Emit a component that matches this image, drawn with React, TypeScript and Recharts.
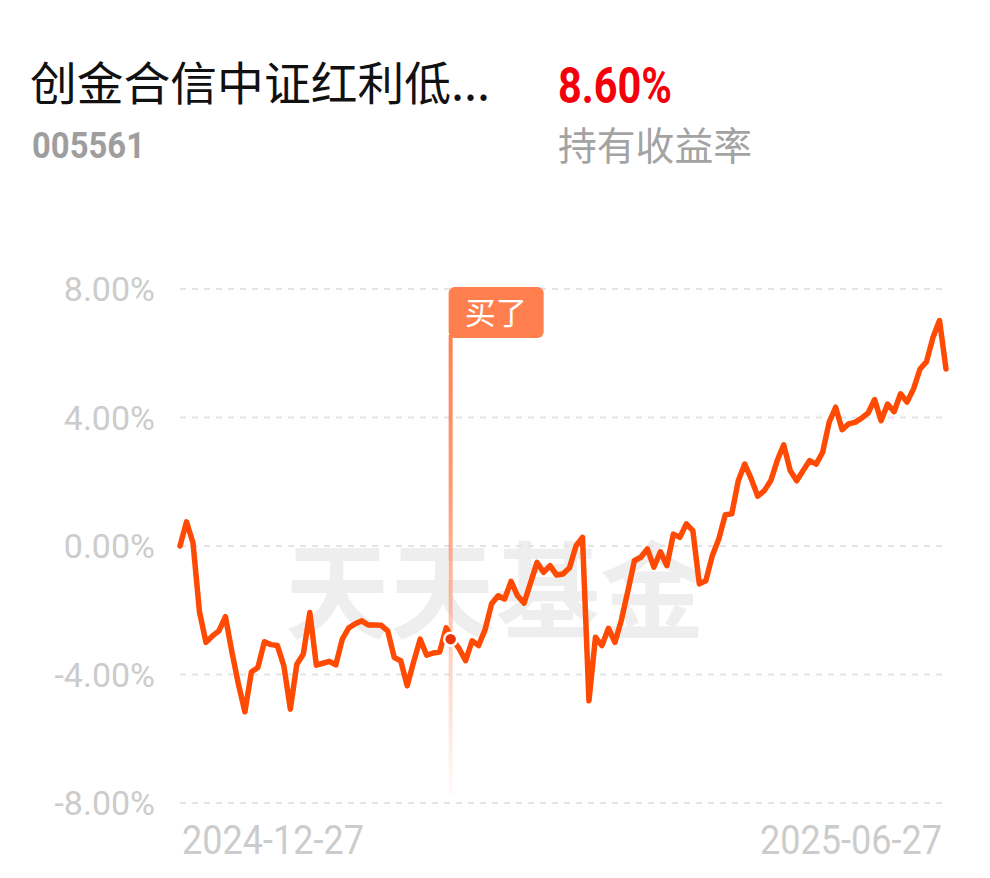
import React from 'react';
import { LineChart, Line, XAxis, YAxis, CartesianGrid, ReferenceLine } from 'recharts';

// 持有收益走势 (%), one value per trading day, 2024-12-27 .. 2025-06-27
const returnRates = [
  0.0, 0.75, 0.1, -2.05, -3.0, -2.8, -2.64, -2.2, -3.3, -4.3,
  -5.16, -3.92, -3.78, -2.98, -3.07, -3.1, -3.73, -5.08, -3.68, -3.36,
  -2.07, -3.71, -3.65, -3.59, -3.7, -2.9, -2.55, -2.42, -2.33, -2.46,
  -2.46, -2.47, -2.64, -3.47, -3.57, -4.35, -3.6, -2.9, -3.4, -3.33,
  -3.3, -2.55, -2.9, -3.2, -3.57, -2.95, -3.1, -2.6, -1.8, -1.55,
  -1.65, -1.1, -1.55, -1.78, -1.15, -0.51, -0.82, -0.61, -0.9, -0.87,
  -0.68, 0.0, 0.27, -4.82, -2.84, -3.1, -2.56, -3.0, -2.3, -1.4,
  -0.46, -0.35, -0.09, -0.66, -0.18, -0.61, 0.37, 0.27, 0.69, 0.48,
  -1.18, -1.08, -0.3, 0.22, 0.97, 1.0, 2.03, 2.55, 2.09, 1.55,
  1.72, 2.03, 2.66, 3.15, 2.35, 2.03, 2.35, 2.66, 2.55, 2.92,
  3.85, 4.32, 3.62, 3.8, 3.85, 3.98, 4.14, 4.56, 3.9, 4.42,
  4.18, 4.74, 4.48, 4.89, 5.51, 5.74, 6.5, 7.02, 5.51,
];
const dateTicks = ['2024-12-27', '2025-06-27'];
const yTicks = [-8, -4, 0, 4, 8];
const buyIndex = 42;
const buyLabel = '买了';

const fundName = '创金合信中证红利低...';
const fundCode = '005561';
const holdReturn = '8.60%';
const holdReturnLabel = '持有收益率';

const data = returnRates.map((v, i) => ({ i, v }));
const lastIndex = returnRates.length - 1;

const NUM_FONT = 'Roboto, "Noto Sans", sans-serif';
const CJK_FONT = '"Noto Sans CJK SC", "Noto Sans", sans-serif';

const DateTick = (props: any) => {
  const { x, y, payload } = props;
  const first = payload.value === 0;
  const label = first ? dateTicks[0] : dateTicks[1];
  return (
    <text
      x={first ? x + 2 : x - 4}
      y={y + 51}
      textAnchor={first ? 'start' : 'end'}
      fill="#cccccc"
      fontSize={41}
      fontFamily={NUM_FONT}
      textLength={182}
      lengthAdjust="spacingAndGlyphs"
    >
      {label}
    </text>
  );
};

const BuyDot = (props: any) => {
  const { cx, cy, index } = props;
  if (index !== buyIndex) return <g key={index} />;
  return <circle key={index} cx={cx - 2} cy={cy} r={6.5} fill="#e8350c" stroke="#ffffff" strokeWidth={2.5} />;
};

const BuyMarker = (props: any) => {
  const { x1, y1, y2 } = props;
  const top = Math.min(y1, y2) - 2;
  const bottom = Math.max(y1, y2);
  const x = x1 - 2;
  return (
    <g>
      <defs>
        <linearGradient id="buyFade" x1="0" y1="0" x2="0" y2="1">
          <stop offset="0%" stopColor="#ff7f50" stopOpacity={1} />
          <stop offset="35%" stopColor="#ff8a5e" stopOpacity={0.85} />
          <stop offset="100%" stopColor="#ff9a75" stopOpacity={0.04} />
        </linearGradient>
      </defs>
      <rect x={x - 2} y={top + 48} width={4} height={bottom - 8 - (top + 48)} fill="url(#buyFade)" />
      <rect x={x - 2} y={top} width={95} height={51} rx={6} fill="#ff7f4f" />
      <text
        x={x + 45}
        y={top + 37}
        textAnchor="middle"
        fill="#ffffff"
        fontSize={31}
        fontFamily={CJK_FONT}
      >
        {buyLabel}
      </text>
    </g>
  );
};

export default function App() {
  return (
    <div style={{ position: 'absolute', left: 0, top: 0, width: 990, height: 878, background: '#ffffff', overflow: 'hidden' }}>
      <svg width={990} height={878} style={{ position: 'absolute', left: 0, top: 0 }}>
        <text x={30} y={100} fontSize={46} fontFamily={CJK_FONT} fill="#111111" textLength={460} lengthAdjust="spacingAndGlyphs">
          {fundName}
        </text>
        <text x={558} y={103} fontSize={50} fontWeight={700} fontFamily={NUM_FONT} fill="#f4000a" textLength={114} lengthAdjust="spacingAndGlyphs">
          {holdReturn}
        </text>
        <text x={32} y={158} fontSize={37} fontWeight={700} fontFamily={NUM_FONT} fill="#9e9e9e" textLength={113} lengthAdjust="spacingAndGlyphs">
          {fundCode}
        </text>
        <text x={558} y={160} fontSize={39} fontFamily={CJK_FONT} fill="#a3a3a3" textLength={194} lengthAdjust="spacingAndGlyphs">
          {holdReturnLabel}
        </text>
        {/* watermark */}
        <text x={285} y={630} fontSize={105} fontWeight={700} fontFamily={CJK_FONT} fill="#eeeeee" textLength={420} lengthAdjust="spacingAndGlyphs">
          天天基金
        </text>
      </svg>
      <div style={{ position: 'absolute', left: 0, top: 0 }}>
        <LineChart width={990} height={878} data={data} margin={{ top: 289, right: 44, bottom: 15, left: 10 }}>
          <CartesianGrid horizontal vertical={false} stroke="#e4e4e4" strokeWidth={2} strokeDasharray="6 6" />
          <XAxis
            dataKey="i"
            type="number"
            domain={[0, lastIndex]}
            ticks={[0, lastIndex]}
            height={60}
            axisLine={false}
            tickLine={false}
            tickSize={0}
            tickMargin={0}
            tick={<DateTick />}
            interval={0}
          />
          <YAxis
            type="number"
            domain={[-8, 8]}
            ticks={yTicks}
            width={170}
            axisLine={false}
            tickLine={false}
            tickSize={0}
            tickMargin={25}
            tickFormatter={(v: number) => `${v.toFixed(2)}%`}
            tick={{ fill: '#cccccc', fontSize: 34, fontFamily: NUM_FONT }}
            interval={0}
          />
          <ReferenceLine x={buyIndex} stroke="none" shape={<BuyMarker />} />
          <Line
            type="linear"
            dataKey="v"
            stroke="#ff4a03"
            strokeWidth={5.5}
            strokeLinejoin="round"
            strokeLinecap="round"
            dot={<BuyDot />}
            activeDot={false}
            isAnimationActive={false}
          />
        </LineChart>
      </div>
    </div>
  );
}
